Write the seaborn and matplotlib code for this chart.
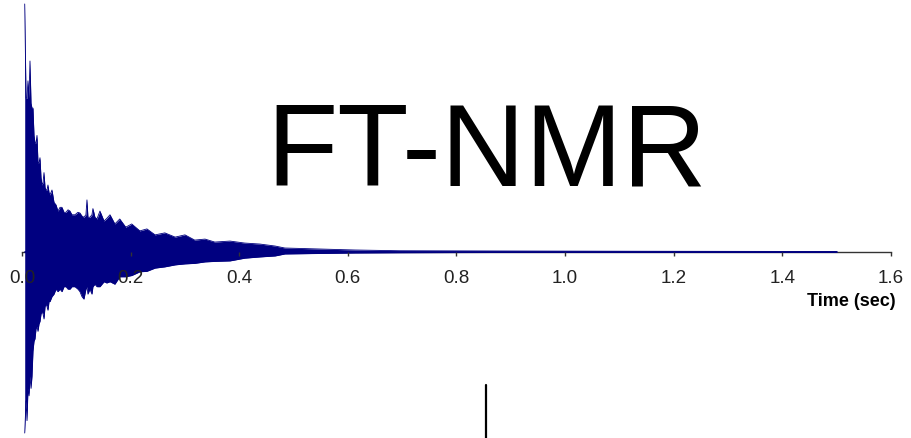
import numpy as np
import pandas as pd
import seaborn as sns
import matplotlib
matplotlib.use('Agg')
import matplotlib.pyplot as plt
from matplotlib.lines import Line2D

# FID envelope (time in sec, normalised amplitude)
time_s = [0.0050, 0.0074, 0.0092, 0.0110, 0.0129, 0.0147, 0.0166, 0.0184, 0.0202, 0.0221,
          0.0239, 0.0258, 0.0276, 0.0294, 0.0313, 0.0331, 0.0350, 0.0368, 0.0387, 0.0405,
          0.0424, 0.0442, 0.0460, 0.0478, 0.0497, 0.0515, 0.0552, 0.0589, 0.0626, 0.0662,
          0.0700, 0.0736, 0.0773, 0.0810, 0.0847, 0.0883, 0.0920, 0.0975, 0.1030, 0.1067,
          0.1104, 0.1140, 0.1177, 0.1196, 0.1214, 0.1250, 0.1288, 0.1306, 0.1343, 0.1380,
          0.1435, 0.1510, 0.1560, 0.1620, 0.1710, 0.1800, 0.1910, 0.2020, 0.2170, 0.2300,
          0.2450, 0.2630, 0.2820, 0.3000, 0.3180, 0.3370, 0.3550, 0.3830, 0.4100, 0.4380,
          0.4660, 0.4840, 0.5480, 0.6130, 0.6960, 0.8800, 1.1200, 1.5000]
upper = [1.00, 0.62, 0.62, 0.69, 0.62, 0.77, 0.60, 0.58, 0.58, 0.47,
         0.44, 0.44, 0.47, 0.36, 0.36, 0.38, 0.30, 0.27, 0.28, 0.32,
         0.26, 0.25, 0.25, 0.27, 0.24, 0.23, 0.25, 0.20, 0.19, 0.165,
         0.18, 0.18, 0.16, 0.16, 0.17, 0.165, 0.15, 0.15, 0.16, 0.157,
         0.145, 0.14, 0.15, 0.21, 0.14, 0.14, 0.15, 0.175, 0.14, 0.133,
         0.165, 0.125, 0.135, 0.15, 0.113, 0.133, 0.10, 0.113, 0.085, 0.093,
         0.069, 0.077, 0.060, 0.069, 0.048, 0.052, 0.040, 0.044, 0.036, 0.032,
         0.024, 0.016, 0.012, 0.008, 0.005, 0.004, 0.003, 0.002]
lower = [-0.73, -0.60, -0.68, -0.55, -0.58, -0.50, -0.55, -0.50, -0.40, -0.36,
         -0.35, -0.31, -0.30, -0.32, -0.29, -0.28, -0.25, -0.24, -0.25, -0.27,
         -0.22, -0.21, -0.22, -0.235, -0.20, -0.20, -0.18, -0.17, -0.15, -0.16,
         -0.15, -0.16, -0.14, -0.14, -0.15, -0.15, -0.14, -0.14, -0.15, -0.16,
         -0.18, -0.19, -0.15, -0.14, -0.17, -0.15, -0.17, -0.14, -0.13, -0.14,
         -0.14, -0.12, -0.125, -0.12, -0.13, -0.10, -0.10, -0.095, -0.08, -0.078,
         -0.065, -0.06, -0.052, -0.048, -0.046, -0.040, -0.038, -0.036, -0.025, -0.020,
         -0.016, -0.008, -0.006, -0.004, -0.003, -0.002, -0.001, -0.001]
xticks = [0.0, 0.2, 0.4, 0.6, 0.8, 1.0, 1.2, 1.4, 1.6]
xlabels = ['0.0', '0.2', '0.4', '0.6', '0.8', '1.0', '1.2', '1.4', '1.6']

navy = '#000080'
sns.set_theme(style='white')
plt.rcParams['font.family'] = ['Liberation Sans', 'DejaVu Sans']

df = pd.DataFrame({'t': time_s, 'up': upper, 'lo': lower})

fig = plt.figure(figsize=(9.12, 4.39), dpi=100)
ax = fig.add_axes([22 / 912, 0, 869 / 912, 1])

ax.fill_between(df['t'], df['lo'], df['up'], color=navy, lw=0)
sns.lineplot(data=df, x='t', y='up', ax=ax, color=navy, lw=0.6)
sns.lineplot(data=df, x='t', y='lo', ax=ax, color=navy, lw=0.6)
ax.plot([time_s[0], time_s[-1]], [0, 0], color=navy, lw=1.2, zorder=3)

ax.set_xlim(0, 1.6)
ax.set_ylim(-0.75, 1.02)
ax.set_axisbelow(False)
for s in ['top', 'right', 'left']:
    ax.spines[s].set_visible(False)
ax.spines['bottom'].set_position(('data', 0))
ax.spines['bottom'].set_color('#333333')
ax.spines['bottom'].set_linewidth(1.0)
ax.spines['bottom'].set_zorder(0)
ax.set_xticks(xticks)
ax.set_xticklabels(xlabels)
ax.set_yticks([])
ax.tick_params(axis='x', direction='out', length=3, width=1, color='#333333',
               labelsize=13.5, labelcolor='#222222', pad=9, bottom=True)
ax.xaxis.set_zorder(5)
ax.set_xlabel('')
ax.set_ylabel('')
ax.patch.set_alpha(0)

fig.text(896 / 912, 1 - 302 / 439, 'Time (sec)', ha='right', va='center',
         fontsize=13, fontweight='bold', color='black')
fig.text(487 / 912, 1 - 185 / 439, 'FT-NMR', ha='center', va='baseline',
         fontsize=84, color='black')
fig.add_artist(Line2D([486 / 912, 486 / 912], [0, 1 - 386 / 439], color='black', lw=1.6))

fig.savefig('out.png', dpi=100)
